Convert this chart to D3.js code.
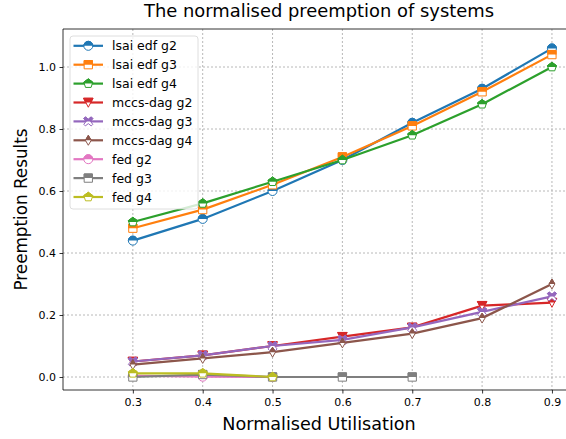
<!DOCTYPE html>
<html>
<head>
<meta charset="utf-8">
<script src="https://cdn.jsdelivr.net/npm/d3@7/dist/d3.min.js"></script>
<style>
  html, body { margin: 0; padding: 0; background: #fff; }
  svg { display: block; font-family: "DejaVu Sans", sans-serif; }
</style>
</head>
<body>
<svg id="chart" width="566" height="439"></svg>
<script>
// Utilisation levels on the x axis
const utilisation = [0.3, 0.4, 0.5, 0.6, 0.7, 0.8, 0.9];
const xTicks = [0.3, 0.4, 0.5, 0.6, 0.7, 0.8, 0.9];
const yTicks = [0.0, 0.2, 0.4, 0.6, 0.8, 1.0];

// Series names, colours and marker shapes
const seriesNames = ["lsai edf g2", "lsai edf g3", "lsai edf g4",
  "mccs-dag g2", "mccs-dag g3", "mccs-dag g4",
  "fed g2", "fed g3", "fed g4"];
const seriesColors = ["#1f77b4", "#ff7f0e", "#2ca02c", "#d62728", "#9467bd",
  "#8c564b", "#e377c2", "#7f7f7f", "#bcbd22"];
const seriesMarkers = ["circle", "square", "pentagon", "triangleDown", "x",
  "thinDiamond", "circle", "square", "pentagon"];

// Preemption values per series
const lsaiG2 = [0.44, 0.51, 0.60, 0.70, 0.82, 0.93, 1.06];
const lsaiG3 = [0.48, 0.54, 0.62, 0.71, 0.81, 0.92, 1.04];
const lsaiG4 = [0.50, 0.56, 0.63, 0.70, 0.78, 0.88, 1.00];
const mccsG2 = [0.05, 0.07, 0.10, 0.13, 0.16, 0.23, 0.24];
const mccsG3 = [0.05, 0.07, 0.10, 0.12, 0.16, 0.21, 0.26];
const mccsG4 = [0.04, 0.06, 0.08, 0.11, 0.14, 0.19, 0.30];
const fedG2 = [0.004, 0.001, 0.0];
const fedG3 = [0.0, 0.008, 0.0, 0.0, 0.0];
const fedG4 = [0.012, 0.012, 0.0];

const seriesValues = [lsaiG2, lsaiG3, lsaiG4, mccsG2, mccsG3, mccsG4, fedG2, fedG3, fedG4];

const svg = d3.select("#chart");
const W = 566, H = 439;
const plot = { left: 63, top: 29, bottom: 390 };

const x = d3.scaleLinear().domain([0.2, 1.0]).range([plot.left, plot.left + 8 * 69.85]);
const y = d3.scaleLinear().domain([-0.0419, 1.1226]).range([plot.bottom, plot.top]);

// grid lines
const grid = svg.append("g");
grid.selectAll("line.gx").data(xTicks).join("line")
  .attr("x1", d => x(d)).attr("x2", d => x(d))
  .attr("y1", plot.top).attr("y2", plot.bottom)
  .attr("stroke", "#b0b0b0").attr("stroke-width", 0.9).attr("stroke-dasharray", "2,2");
grid.selectAll("line.gy").data(yTicks).join("line")
  .attr("x1", plot.left).attr("x2", W)
  .attr("y1", d => y(d)).attr("y2", d => y(d))
  .attr("stroke", "#b0b0b0").attr("stroke-width", 0.9).attr("stroke-dasharray", "2,2");

// marker shapes, roughly matplotlib markersize 8
const R = 4.5;
function markerPath(kind) {
  switch (kind) {
    case "circle": return d3.symbol(d3.symbolCircle, Math.PI * R * R)();
    case "square": { const s = R * 0.92; return `M${-s},${-s}H${s}V${s}H${-s}Z`; }
    case "pentagon": {
      const r = R * 1.05; let p = "";
      for (let i = 0; i < 5; i++) {
        const a = -Math.PI / 2 + i * 2 * Math.PI / 5;
        p += (i ? "L" : "M") + (r * Math.cos(a)).toFixed(2) + "," + (r * Math.sin(a)).toFixed(2);
      }
      return p + "Z";
    }
    case "triangleDown": { const r = R * 1.05; return `M${-r},${-r * 0.9}L${r},${-r * 0.9}L0,${r}Z`; }
    case "x": {
      const a = R, b = R * 0.35;
      return `M${-a + b},${-a}L0,${-b * 1.4}L${a - b},${-a}L${a},${-a + b}L${b * 1.4},0L${a},${a - b}L${a - b},${a}L0,${b * 1.4}L${-a + b},${a}L${-a},${a - b}L${-b * 1.4},0L${-a},${-a + b}Z`;
    }
    case "thinDiamond": { const h = R * 1.1, w = R * 0.65; return `M0,${-h}L${w},0L0,${h}L${-w},0Z`; }
  }
}

// clip to keep only the upper half of a marker filled
const defs = svg.append("defs");
defs.append("clipPath").attr("id", "tophalf")
  .append("rect").attr("x", -10).attr("y", -10).attr("width", 20).attr("height", 10);

function drawMarker(g, kind, color) {
  const d = markerPath(kind);
  g.append("path").attr("d", d).attr("fill", "#fff").attr("stroke", color).attr("stroke-width", 1);
  g.append("path").attr("d", d).attr("fill", color).attr("stroke", color).attr("stroke-width", 1)
    .attr("clip-path", "url(#tophalf)");
}

const line = d3.line().x((d, i) => x(utilisation[i])).y(d => y(d));
const layer = svg.append("g");

seriesValues.forEach((vals, k) => {
  const c = seriesColors[k];
  const g = layer.append("g");
  g.append("path").datum(vals).attr("d", line)
    .attr("fill", "none").attr("stroke", c).attr("stroke-width", 2.2);
  vals.forEach((v, i) => {
    const m = g.append("g").attr("transform", `translate(${x(utilisation[i])},${y(v)})`);
    drawMarker(m, seriesMarkers[k], c);
  });
});

// spines
svg.append("path")
  .attr("d", `M${W + 2},${plot.top}H${plot.left}V${plot.bottom}H${W + 2}`)
  .attr("fill", "none").attr("stroke", "#000").attr("stroke-width", 0.8);

// axes ticks and labels
const xAxis = d3.axisBottom(x).tickValues(xTicks).tickFormat(d3.format(".1f")).tickSize(3.5).tickPadding(4.5);
const gx = svg.append("g").attr("transform", `translate(0,${plot.bottom})`).call(xAxis);
gx.select(".domain").remove();
gx.selectAll("text").attr("font-size", 11).attr("fill", "#000").attr("font-family", "DejaVu Sans");
gx.selectAll("line").attr("stroke", "#000").attr("stroke-width", 0.8);

const yAxis = d3.axisLeft(y).tickValues(yTicks).tickFormat(d3.format(".1f")).tickSize(3.5).tickPadding(3.5);
const gy = svg.append("g").attr("transform", `translate(${plot.left},0)`).call(yAxis);
gy.select(".domain").remove();
gy.selectAll("text").attr("font-size", 11).attr("fill", "#000").attr("font-family", "DejaVu Sans");
gy.selectAll("line").attr("stroke", "#000").attr("stroke-width", 0.8);

// titles
svg.append("text").attr("x", 319).attr("y", 17).attr("text-anchor", "middle")
  .attr("font-size", 17.9).text("The normalised preemption of systems");
svg.append("text").attr("x", 319).attr("y", 430).attr("text-anchor", "middle")
  .attr("font-size", 17.6).text("Normalised Utilisation");
svg.append("text").attr("transform", `translate(27,${(plot.top + plot.bottom) / 2}) rotate(-90)`)
  .attr("text-anchor", "middle").attr("font-size", 16.8).text("Preemption Results");

// legend
const lg = svg.append("g").attr("transform", "translate(70,36)");
lg.append("rect").attr("width", 128).attr("height", 173).attr("rx", 3)
  .attr("fill", "#fff").attr("fill-opacity", 0.8).attr("stroke", "#d6d6d6").attr("stroke-width", 0.8);
seriesNames.forEach((name, k) => {
  const yy = 9.8 + k * 18.9;
  const row = lg.append("g").attr("transform", `translate(0,${yy})`);
  row.append("line").attr("x1", 3.5).attr("x2", 33).attr("y1", 0).attr("y2", 0)
    .attr("stroke", seriesColors[k]).attr("stroke-width", 2.2);
  drawMarker(row.append("g").attr("transform", "translate(18.3,0)"), seriesMarkers[k], seriesColors[k]);
  row.append("text").attr("x", 42).attr("y", 4.5).attr("font-size", 12.5).text(name);
});
</script>
</body>
</html>
